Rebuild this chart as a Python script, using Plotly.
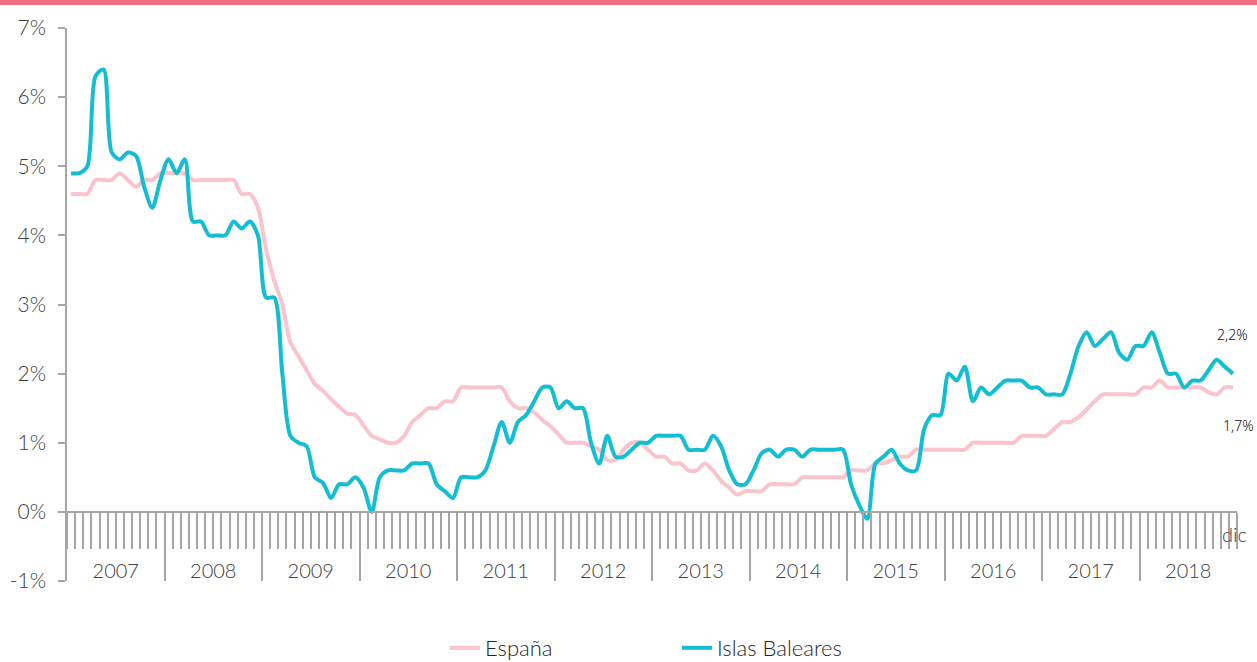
import plotly.graph_objects as go

years = ["2007", "2008", "2009", "2010", "2011", "2012", "2013", "2014",
         "2015", "2016", "2017", "2018"]
y_ticks = [-1, 0, 1, 2, 3, 4, 5, 6, 7]
y_labels = ["-1%", "0%", "1%", "2%", "3%", "4%", "5%", "6%", "7%"]

espana = [
    4.6, 4.6, 4.6, 4.8, 4.8, 4.8, 4.9, 4.8, 4.7, 4.8, 4.8, 4.9,
    4.9, 4.9, 4.9, 4.8, 4.8, 4.8, 4.8, 4.8, 4.8, 4.6, 4.6, 4.4,
    3.8, 3.35, 3.0, 2.45, 2.25, 2.05, 1.85, 1.75, 1.63, 1.52, 1.42, 1.4,
    1.25, 1.1, 1.05, 1.0, 1.0, 1.1, 1.3, 1.4, 1.5, 1.5, 1.6, 1.6,
    1.8, 1.8, 1.8, 1.8, 1.8, 1.8, 1.6, 1.5, 1.5, 1.44, 1.33, 1.24,
    1.12, 1.0, 1.0, 1.0, 0.95, 0.9, 0.75, 0.75, 0.9, 1.0, 1.0, 0.9,
    0.8, 0.8, 0.7, 0.7, 0.6, 0.6, 0.7, 0.6, 0.45, 0.35, 0.25, 0.3,
    0.3, 0.3, 0.4, 0.4, 0.4, 0.4, 0.5, 0.5, 0.5, 0.5, 0.5, 0.5,
    0.6, 0.6, 0.6, 0.7, 0.7, 0.75, 0.8, 0.8, 0.9, 0.9, 0.9, 0.9,
    0.9, 0.9, 0.9, 1.0, 1.0, 1.0, 1.0, 1.0, 1.0, 1.1, 1.1, 1.1,
    1.1, 1.2, 1.3, 1.3, 1.37, 1.48, 1.6, 1.7, 1.7, 1.7, 1.7, 1.7,
    1.8, 1.8, 1.9, 1.8, 1.8, 1.8, 1.8, 1.8, 1.73, 1.7, 1.8, 1.8,
]

baleares = [
    4.9, 4.9, 5.0, 6.3, 6.4, 5.2, 5.1, 5.2, 5.15, 4.7, 4.4, 4.8,
    5.1, 4.9, 5.1, 4.2, 4.2, 4.0, 4.0, 4.0, 4.2, 4.1, 4.2, 4.0,
    3.1, 3.1, 2.0, 1.1, 1.0, 0.95, 0.5, 0.42, 0.2, 0.4, 0.4, 0.5,
    0.35, 0.0, 0.5, 0.6, 0.6, 0.6, 0.7, 0.7, 0.7, 0.4, 0.3, 0.2,
    0.5, 0.5, 0.5, 0.6, 0.95, 1.3, 1.0, 1.3, 1.4, 1.6, 1.8, 1.8,
    1.5, 1.6, 1.5, 1.5, 1.0, 0.7, 1.1, 0.8, 0.8, 0.9, 1.0, 1.0,
    1.1, 1.1, 1.1, 1.1, 0.9, 0.9, 0.9, 1.1, 0.95, 0.6, 0.4, 0.4,
    0.6, 0.85, 0.9, 0.8, 0.9, 0.9, 0.8, 0.9, 0.9, 0.9, 0.9, 0.9,
    0.4, 0.1, -0.1, 0.7, 0.8, 0.9, 0.7, 0.6, 0.6, 1.2, 1.4, 1.4,
    2.0, 1.9, 2.1, 1.6, 1.8, 1.7, 1.8, 1.9, 1.9, 1.9, 1.8, 1.8,
    1.7, 1.7, 1.7, 2.0, 2.4, 2.6, 2.4, 2.5, 2.6, 2.3, 2.2, 2.4,
    2.4, 2.6, 2.3, 2.0, 2.0, 1.8, 1.9, 1.9, 2.05, 2.2, 2.1, 2.0,
]

n = len(espana)
xpos = [i + 0.5 for i in range(n)]

PINK = "#F9C4CC"
TEAL = "#13BED2"
GREY = "#A6A6A6"
TXT = "#404040"
FONT = "Lato"

fig = go.Figure()
fig.add_trace(go.Scatter(x=xpos, y=espana, mode="lines", name="España",
                         line=dict(color=PINK, width=4, shape="spline", smoothing=0.8)))
fig.add_trace(go.Scatter(x=xpos, y=baleares, mode="lines", name="Islas Baleares",
                         line=dict(color=TEAL, width=4, shape="spline", smoothing=0.8)))
# helper traces so the overlaying axes (year boundaries, year labels) are drawn
for ax in ("x2", "x3"):
    fig.add_trace(go.Scatter(x=[None], y=[None], xaxis=ax, yaxis="y", mode="lines",
                             line=dict(color="rgba(0,0,0,0)"),
                             showlegend=False, hoverinfo="skip"))

W, H = 1257, 662
L, R, T, B = 67, 20, 28, 81
ph = H - T - B
pw = W - L - R
ymin, ymax = -1, 7
zero_pos = (0 - ymin) / (ymax - ymin)


def px_x(p):
    return (p - L) / pw


def px_y(p):
    return (H - B - p) / ph


fig.update_layout(
    width=W, height=H,
    margin=dict(l=L, r=R, t=T, b=B, autoexpand=False),
    paper_bgcolor="white", plot_bgcolor="white",
    font=dict(family=FONT, color=TXT, size=20, weight=300),
    showlegend=True,
    legend=dict(orientation="h", x=px_x(445), xanchor="left", y=px_y(648),
                yanchor="middle", font=dict(size=22, color="#262626", weight=300),
                entrywidth=187, traceorder="normal"),
    xaxis=dict(range=[0, n], anchor="free", position=zero_pos,
               showline=True, linecolor=GREY, linewidth=1.5,
               ticks="outside", ticklen=36, tickcolor=GREY, tickwidth=1.5,
               tickvals=list(range(0, n + 1)), showticklabels=False,
               showgrid=False, zeroline=False, fixedrange=True),
    xaxis2=dict(range=[0, n], overlaying="x", anchor="y", side="bottom",
                showline=False, ticks="inside", ticklen=70, tickcolor=GREY,
                tickwidth=1.5, tickvals=list(range(0, n + 1, 12)),
                showticklabels=False, showgrid=False, zeroline=False),
    xaxis3=dict(range=[0, n], overlaying="x", anchor="free",
                position=px_y(557), side="bottom",
                showline=False, ticks="", tickvals=[6 + 12 * k for k in range(len(years))],
                ticktext=years, tickfont=dict(size=20, color=TXT, weight=300),
                showgrid=False, zeroline=False),
    yaxis=dict(range=[ymin, ymax], tickvals=y_ticks, ticktext=y_labels,
               showline=True, linecolor=GREY, linewidth=1.5,
               ticks="outside", ticklen=7, tickcolor=GREY, tickwidth=1.5,
               tickfont=dict(size=21, color=TXT, weight=300), ticklabelstandoff=8,
               showgrid=False, zeroline=False),
)

# top decorative band
fig.add_shape(type="rect", xref="paper", yref="paper",
              x0=px_x(0), x1=px_x(W), y0=px_y(5), y1=px_y(-2),
              fillcolor="#F26F7C", line=dict(width=0), layer="above")

fig.add_annotation(x=px_x(1234), y=px_y(534), xref="paper", yref="paper", text="dic",
                   xanchor="center", yanchor="middle",
                   showarrow=False, font=dict(size=20, color=TXT, weight=300))
fig.add_annotation(x=px_x(1232), y=px_y(334), xref="paper", yref="paper", text="2,2%",
                   xanchor="center", yanchor="middle",
                   showarrow=False, font=dict(size=14, color="#111111", family="Noto Sans"))
fig.add_annotation(x=px_x(1238), y=px_y(425), xref="paper", yref="paper", text="1,7%",
                   xanchor="center", yanchor="middle",
                   showarrow=False, font=dict(size=14, color="#111111", family="Noto Sans"))

fig.write_html("out.html", config={"displayModeBar": False},
               post_script="document.body.style.margin='0';document.body.style.overflow='hidden';")
